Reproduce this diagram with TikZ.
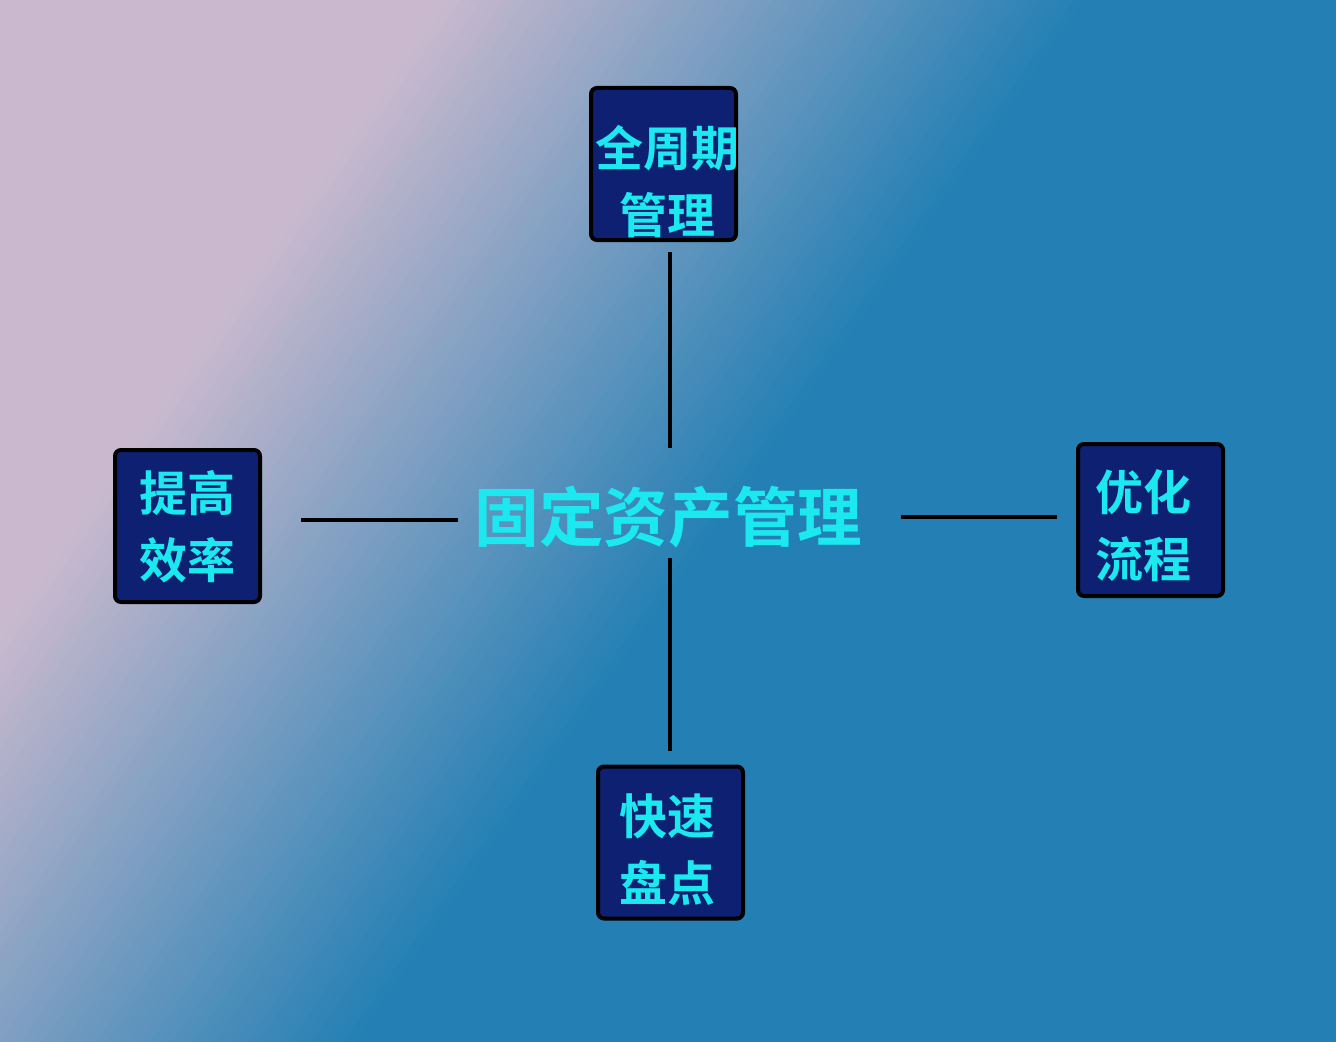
\documentclass[tikz,border=0pt]{standalone}
\usepackage{xcolor}
\usepackage{fontspec}
\usepackage{tikz}
\usetikzlibrary{positioning, calc}
\newfontfamily\cjk[BoldFont={Noto Sans CJK SC Bold}]{Noto Sans CJK SC}
\definecolor{bglav}{RGB}{202, 185, 206}
\definecolor{bgblue}{RGB}{36, 128, 180}
\definecolor{tilenavy}{RGB}{14, 32, 114}
\definecolor{textcyan}{RGB}{28, 232, 240}

\begin{document}
\begin{tikzpicture}[
    x=0.5pt, y=0.5pt,
    tile/.style={draw=black, line width=2pt, rounded corners=3pt, fill=tilenavy,
                 minimum width=72.5pt, minimum height=76pt, inner sep=0pt},
    tiletext/.style={text=textcyan, align=center, inner sep=0pt,
                     font=\cjk\bfseries\fontsize{24}{33.5}\selectfont},
    hubtext/.style={text=textcyan, inner sep=0pt, text height=26.6pt, text depth=2.2pt,
                    font=\cjk\bfseries\fontsize{32.3}{36}\selectfont},
    link/.style={draw=black, line width=1.9pt}
]
    \useasboundingbox (0,0) rectangle (1336,1041);
    % diagonal background
    \begin{scope}
        \clip (0,0) rectangle (1336,1041);
        \begin{scope}[shift={(0,1041)}, rotate=-35]
            \fill[bglav] (-100,-2000) rectangle (361,2000);
            \foreach \i in {0,...,59} {
                \pgfmathsetmacro\ta{360+\i*8.8}
                \pgfmathsetmacro\tb{\ta+9.8}
                \pgfmathsetmacro\pct{(\i+0.5)/60*100}
                \fill[bgblue!\pct!bglav] (\ta,-2000) rectangle (\tb,2000);
            }
            \fill[bgblue] (888,-2000) rectangle (2000,2000);
        \end{scope}
    \end{scope}

    \node[hubtext] (hub) at (668.5,524) {固定资产管理};

    \node[tile] (cycle) at (663.5,877) {};
    \node[tiletext] (cycletext) at (667,859.5) {全周期\\管理};
    \node[tile] (speed) at (187.5,515) {};
    \node[tiletext] (speedtext) at (187,514) {提高\\效率};
    \node[tile] (flow) at (1150.5,521) {};
    \node[tiletext] (flowtext) at (1143,515) {优化\\流程};
    \node[tile] (count) at (670.5,198.5) {};
    \node[tiletext] (counttext) at (667,191) {快速\\盘点};

    \draw[link, shorten <=20pt, shorten >=5pt] ([xshift=0.75pt]hub.north) -- ([xshift=0.75pt]hub.north |- cycle.south);
    \draw[link, shorten <=6pt, shorten >=7pt] ([xshift=0.75pt]hub.south) -- ([xshift=0.75pt]hub.south |- count.north);
    \draw[link, shorten <=8pt, shorten >=19.5pt] ([yshift=-1.5pt]hub.west) -- ([yshift=-1.5pt]hub.west -| speed.east);
    \draw[link, shorten <=19pt, shorten >=9.5pt] (hub.east) -- (hub.east -| flow.west);
\end{tikzpicture}
\end{document}
